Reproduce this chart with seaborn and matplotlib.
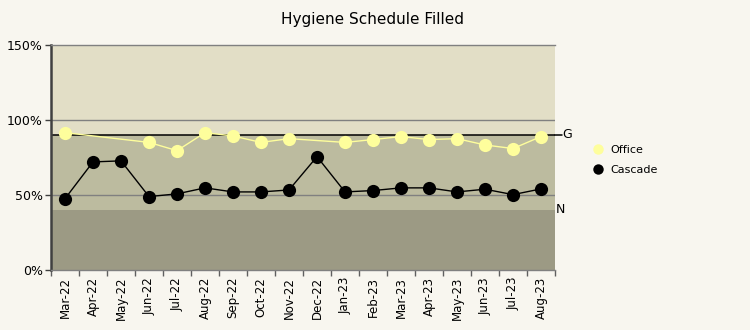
import numpy as np
import pandas as pd
import matplotlib
matplotlib.use("Agg")
import matplotlib.pyplot as plt
from matplotlib.lines import Line2D
import seaborn as sns

months = ["Mar-22", "Apr-22", "May-22", "Jun-22", "Jul-22", "Aug-22", "Sep-22",
          "Oct-22", "Nov-22", "Dec-22", "Jan-23", "Feb-23", "Mar-23", "Apr-23",
          "May-23", "Jun-23", "Jul-23", "Aug-23"]
office = [91.5, np.nan, np.nan, 85.0, 79.5, 91.5, 89.3, 85.0, 87.5, np.nan,
          85.0, 86.9, 88.9, 86.9, 87.5, 83.3, 80.9, 88.9]
cascade = [47.5, 72.0, 72.7, 48.9, 50.7, 54.7, 52.0, 52.0, 53.3, 75.5,
           52.0, 52.9, 54.7, 54.7, 52.0, 53.8, 50.2, 54.0]
goal = 90
minimum = 40
y_ticks = [0, 50, 100, 150]
y_tick_labels = ["0%", "50%", "100%", "150%"]

sns.set_theme(style="white")
plt.rcParams["font.family"] = ["DejaVu Sans"]
plt.rcParams["text.color"] = "black"
plt.rcParams["xtick.color"] = "black"
plt.rcParams["ytick.color"] = "black"
plt.rcParams["xtick.labelcolor"] = "black"
plt.rcParams["ytick.labelcolor"] = "black"

bg = "#f8f6ef"
fig = plt.figure(figsize=(7.5, 3.3), dpi=100, facecolor=bg)
ax = fig.add_axes([0.068, 0.182, 0.672, 0.682])

# performance bands
ax.axhspan(0, minimum, color="#9c9a84", zorder=0, lw=0)
ax.axhspan(minimum, goal, color="#bcbb9f", zorder=0, lw=0)
ax.axhspan(goal, 150, color="#e2dec6", zorder=0, lw=0)
for g in [50, 100]:
    ax.axhline(g, color="#808080", lw=1, zorder=1)
ax.axhline(goal, color="black", lw=1.1, zorder=1)

df = pd.DataFrame({
    "idx": list(range(len(months))) * 2,
    "value": office + cascade,
    "series": ["Office"] * len(months) + ["Cascade"] * len(months),
}).dropna()

palette = {"Office": "#fefe9c", "Cascade": "#000000"}
sns.lineplot(data=df, x="idx", y="value", hue="series", palette=palette,
             marker="o", markersize=9.5, markeredgewidth=0, linewidth=1,
             legend=False, ax=ax, zorder=3)

ax.set_xlim(-0.5, len(months) - 0.5)
ax.set_ylim(0, 150)
ax.set_xlabel("")
ax.set_ylabel("")

ax.set_yticks(y_ticks)
ax.set_yticklabels(y_tick_labels, fontsize=9)
ax.tick_params(axis="y", direction="out", length=4, width=1, color="#404040",
               pad=2, left=True)

ax.set_xticks(range(len(months)))
ax.set_xticklabels(months, rotation=90, fontsize=8.5)
ax.set_xticks(np.arange(-0.5, len(months)), minor=True)
ax.tick_params(axis="x", which="major", length=0, pad=5)
ax.tick_params(axis="x", which="minor", direction="out", length=4, width=1,
               color="#606060", bottom=True)

for s in ["left", "bottom", "top", "right"]:
    ax.spines[s].set_visible(False)
ax.spines["left"].set_visible(True)
ax.spines["left"].set_color("#404040")
ax.spines["left"].set_linewidth(1.8)
ax.spines["bottom"].set_visible(True)
ax.spines["bottom"].set_color("#808080")
ax.spines["bottom"].set_linewidth(1)
ax.spines["top"].set_visible(True)
ax.spines["top"].set_color("#808080")
ax.spines["top"].set_linewidth(1)

# goal / minimum markers on the right edge
xr = len(months) - 0.5
ax.plot([xr, xr + 0.25], [goal, goal], color="black", lw=1.1, clip_on=False)
ax.text(xr + 0.27, goal, "G", va="center", ha="left", fontsize=9)
ax.text(xr + 0.02, minimum, "N", va="center", ha="left", fontsize=9)

fig.text(0.497, 0.94, "Hygiene Schedule Filled", ha="center", va="center",
         fontsize=11)

handles = [
    Line2D([], [], marker="o", ls="", color=palette["Office"], markersize=7.5,
           markeredgewidth=0, label="Office"),
    Line2D([], [], marker="o", ls="", color=palette["Cascade"], markersize=7.5,
           markeredgewidth=0, label="Cascade"),
]
fig.legend(handles=handles, loc="center left", bbox_to_anchor=(0.777, 0.515),
           frameon=False, fontsize=8, handletextpad=0.6, labelspacing=0.9,
           handlelength=1.0)

fig.savefig("out.png", dpi=100, facecolor=bg)
